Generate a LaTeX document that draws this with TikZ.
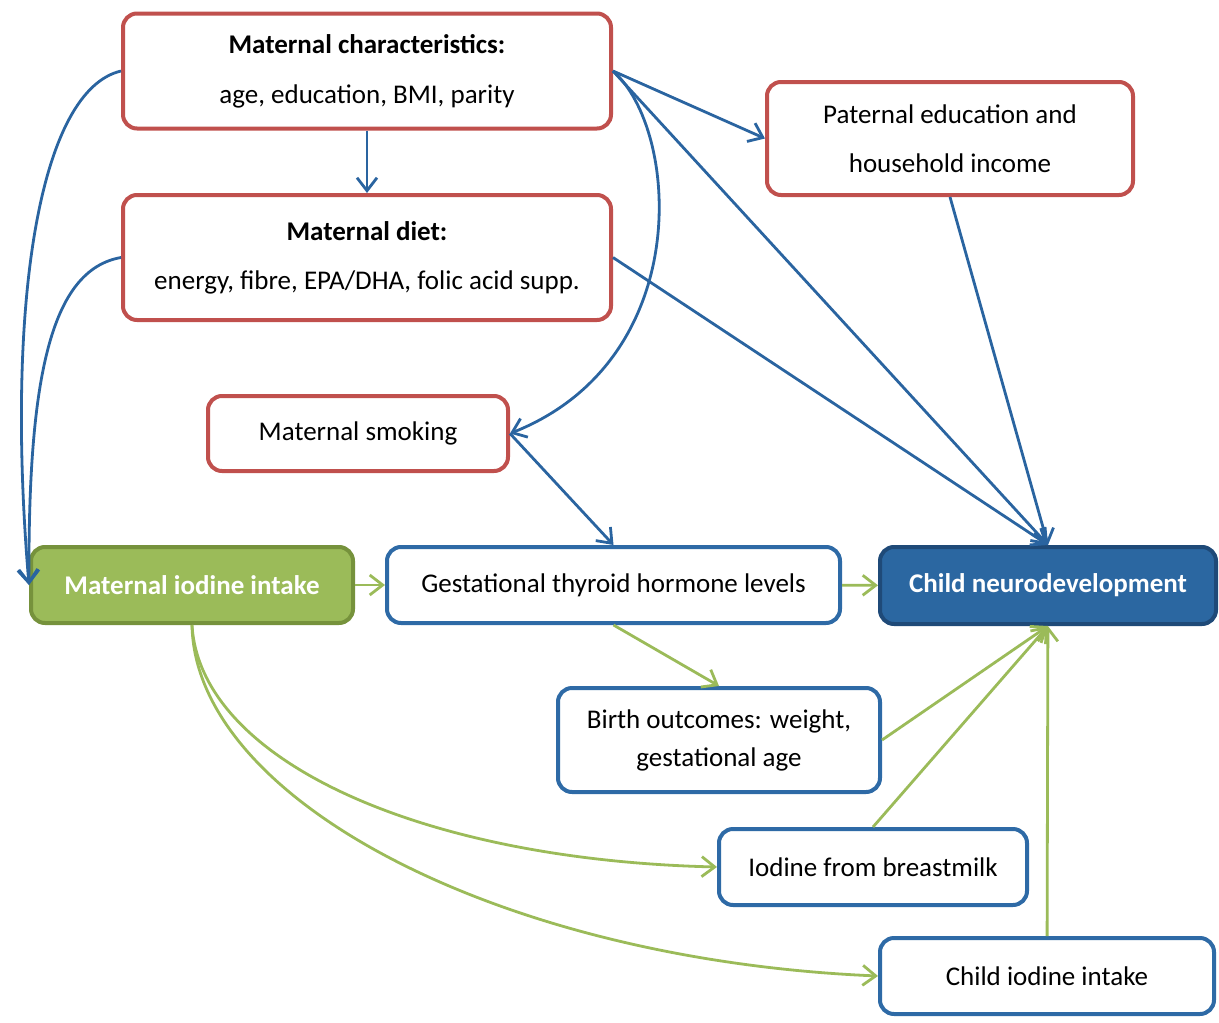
\documentclass[tikz,border=0pt]{standalone}
\usepackage{fontspec}
\setmainfont{Carlito}
\usetikzlibrary{arrows.meta}
\definecolor{boxred}{HTML}{C0504D}
\definecolor{boxblue}{HTML}{2E6AA6}
\definecolor{linkblue}{HTML}{2A64A0}
\definecolor{iodgreen}{HTML}{9BBB59}
\definecolor{iodgreendark}{HTML}{76923C}
\definecolor{neurofill}{HTML}{2B67A1}
\definecolor{neuroborder}{HTML}{1F4A78}
\begin{document}
\begin{tikzpicture}[x=1pt, y=-1pt,
    >={Straight Barb[length=13pt,width=20pt]},
    box/.style={rounded corners=14pt, line width=4pt, align=center, inner sep=0pt,
        font=\fontsize{27}{32}\selectfont},
    redbox/.style={box, draw=boxred, fill=white},
    bluebox/.style={box, draw=boxblue, fill=white},
    bluelink/.style={->, line width=2.8pt, draw=linkblue},
    greenlink/.style={->, line width=2.8pt, draw=iodgreen}]
    \useasboundingbox (0,0) rectangle (1219,1023);

    % Confounders
    \node[redbox, minimum width=488pt, minimum height=115pt] (mchar) at (367,71)
        {\textbf{Maternal characteristics:}\\[18pt]age, education, BMI, parity};
    \node[redbox, minimum width=488pt, minimum height=125pt] (mdiet) at (367,257.5)
        {\textbf{Maternal diet:}\\[17pt]energy, fibre, EPA/DHA, folic acid supp.};
    \node[redbox, minimum width=366pt, minimum height=113pt] (paternal) at (950,138.5)
        {Paternal education and\\[17pt]household income};
    \node[redbox, minimum width=300pt, minimum height=75pt] (smoking) at (358,433.5)
        {Maternal smoking};

    % Exposure, mediators and outcome
    \node[box, draw=iodgreendark, fill=iodgreen, text=white, minimum width=322pt, minimum height=76pt]
        (iodine) at (192,585) {\textbf{Maternal iodine intake}};
    \node[bluebox, minimum width=453pt, minimum height=76pt] (thyroid) at (613.5,585)
        {Gestational thyroid hormone levels};
    \node[box, draw=neuroborder, fill=neurofill, text=white, minimum width=336pt, minimum height=77pt]
        (neuro) at (1048,585.5) {\textbf{Child neurodevelopment}};
    \node[bluebox, minimum width=322pt, minimum height=104pt] (birth) at (719,740)
        {Birth outcomes: weight,\\[6pt]gestational age};
    \node[bluebox, minimum width=308pt, minimum height=76pt] (milk) at (873,867)
        {Iodine from breastmilk};
    \node[bluebox, minimum width=334pt, minimum height=76pt] (childiod) at (1047,976)
        {Child iodine intake};

    % Blue paths
    \draw[bluelink] (mchar.west) .. controls (40,90) and (5,300) .. (iodine.west);
    \draw[bluelink] (mdiet.west) .. controls (50,270) and (28,380) .. (iodine.west);
    \draw[bluelink] (mchar) -- (mdiet);
    \draw[bluelink] (mchar.east) -- (paternal.west);
    \draw[bluelink] (mchar.east) -- (neuro.north);
    \draw[bluelink] (mchar.east) .. controls (680,130) and (695,360) .. (smoking.east);
    \draw[bluelink] (mdiet.east) -- (neuro.north);
    \draw[bluelink] (paternal.south) -- (neuro.north);
    \draw[bluelink] (smoking.east) -- (thyroid.north);

    % Green paths
    \draw[greenlink] (iodine) -- (thyroid);
    \draw[greenlink] (thyroid) -- (neuro);
    \draw[greenlink] (thyroid.south) -- (birth.north);
    \draw[greenlink] (birth.east) -- (neuro.south);
    \draw[greenlink] (milk.north) -- (neuro.south);
    \draw[greenlink] (childiod) -- (neuro);
    \draw[greenlink] (iodine.south) .. controls (200,760) and (420,860) .. (milk.west);
    \draw[greenlink] (iodine.south) .. controls (195,800) and (500,960) .. (childiod.west);
\end{tikzpicture}
\end{document}
